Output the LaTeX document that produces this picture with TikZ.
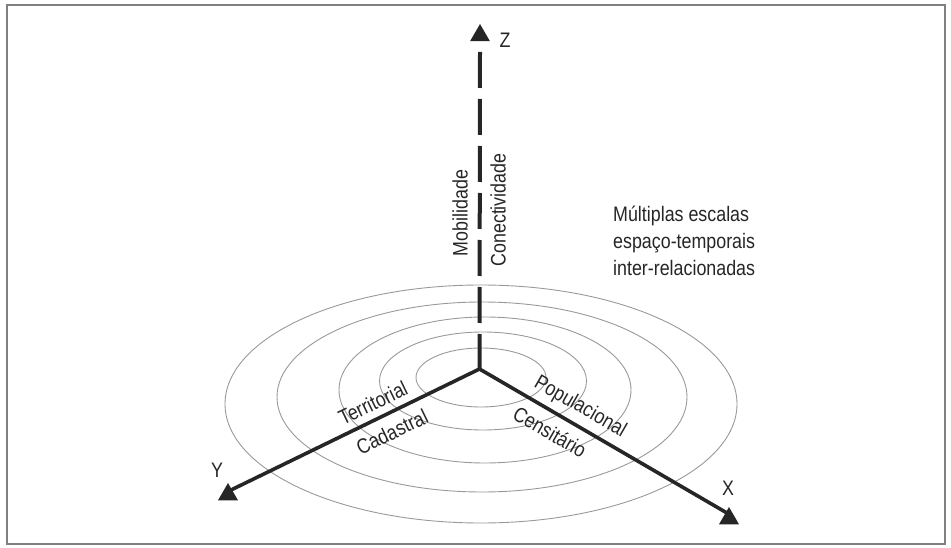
\documentclass[tikz,border=0pt]{standalone}
\usepackage{fontspec}
\setmainfont{Liberation Sans}[FakeStretch=0.85]
\usetikzlibrary{shapes.geometric}
\begin{document}
\begin{tikzpicture}[x=1pt,y=-1pt,
  lbl/.style={font=\fontsize{21}{25}\selectfont, inner sep=0pt, text=black!85},
  axisline/.style={line width=3.6pt, draw=black!85},
  zline/.style={line width=4pt, draw=black!85, dash pattern=on 36pt off 11pt},
  ring/.style={draw=black!40, line width=0.9pt},
  tipmark/.style={regular polygon, regular polygon sides=3, fill=black!85, minimum size=23pt, inner sep=0pt}]
\useasboundingbox (0,0) rectangle (951,548);
\draw[black!50, line width=2pt] (7,5) rectangle (945,544);
% rings
\draw[ring] (481,377.5) ellipse [x radius=65, y radius=29.5];
\draw[ring] (483,381) ellipse [x radius=103.5, y radius=49];
\draw[ring] (485,390) ellipse [x radius=146, y radius=73];
\draw[ring] (482,397) ellipse [x radius=205, y radius=95];
\draw[ring] (481,404) ellipse [x radius=256, y radius=119];
% axes
\coordinate (O) at (479.5,369);
\coordinate (zs) at (480,52);
\coordinate (xe) at (727,513);
\coordinate (ye) at (231,490);
\node[tipmark] (tz) at (480,35.5) {};
\node[tipmark] (ty) at (228,494.5) {};
\node[tipmark] (tx) at (729,518.5) {};
\draw[zline] (zs) -- (O);
\draw[axisline] (O) -- (ye);
\draw[axisline] (O) -- (xe);
% axis letters
\node[lbl] (lz) at (505,40) {Z};
\node[lbl] (ly) at (217,470.5) {Y};
\node[lbl] (lx) at (728,488.5) {X};
% vertical labels
\node[lbl, rotate=90] (mob) at (460,213) {Mobilidade};
\node[lbl, rotate=90] (con) at (498,210) {Conectividade};
% axis labels
\node[lbl, rotate=25.8] (ter) at (373,403) {Territorial};
\node[lbl, rotate=25.8] (cad) at (392,432) {Cadastral};
\node[lbl, rotate=-30] (pop) at (580,407) {Populacional};
\node[lbl, rotate=-30] (cen) at (550,432) {Censitário};
% note
\node[lbl, anchor=base west] (m1) at (613,222) {Múltiplas escalas};
\node[lbl, anchor=base west] (m2) at (613,249) {espaço-temporais};
\node[lbl, anchor=base west] (m3) at (613,276) {inter-relacionadas};
\end{tikzpicture}
\end{document}
